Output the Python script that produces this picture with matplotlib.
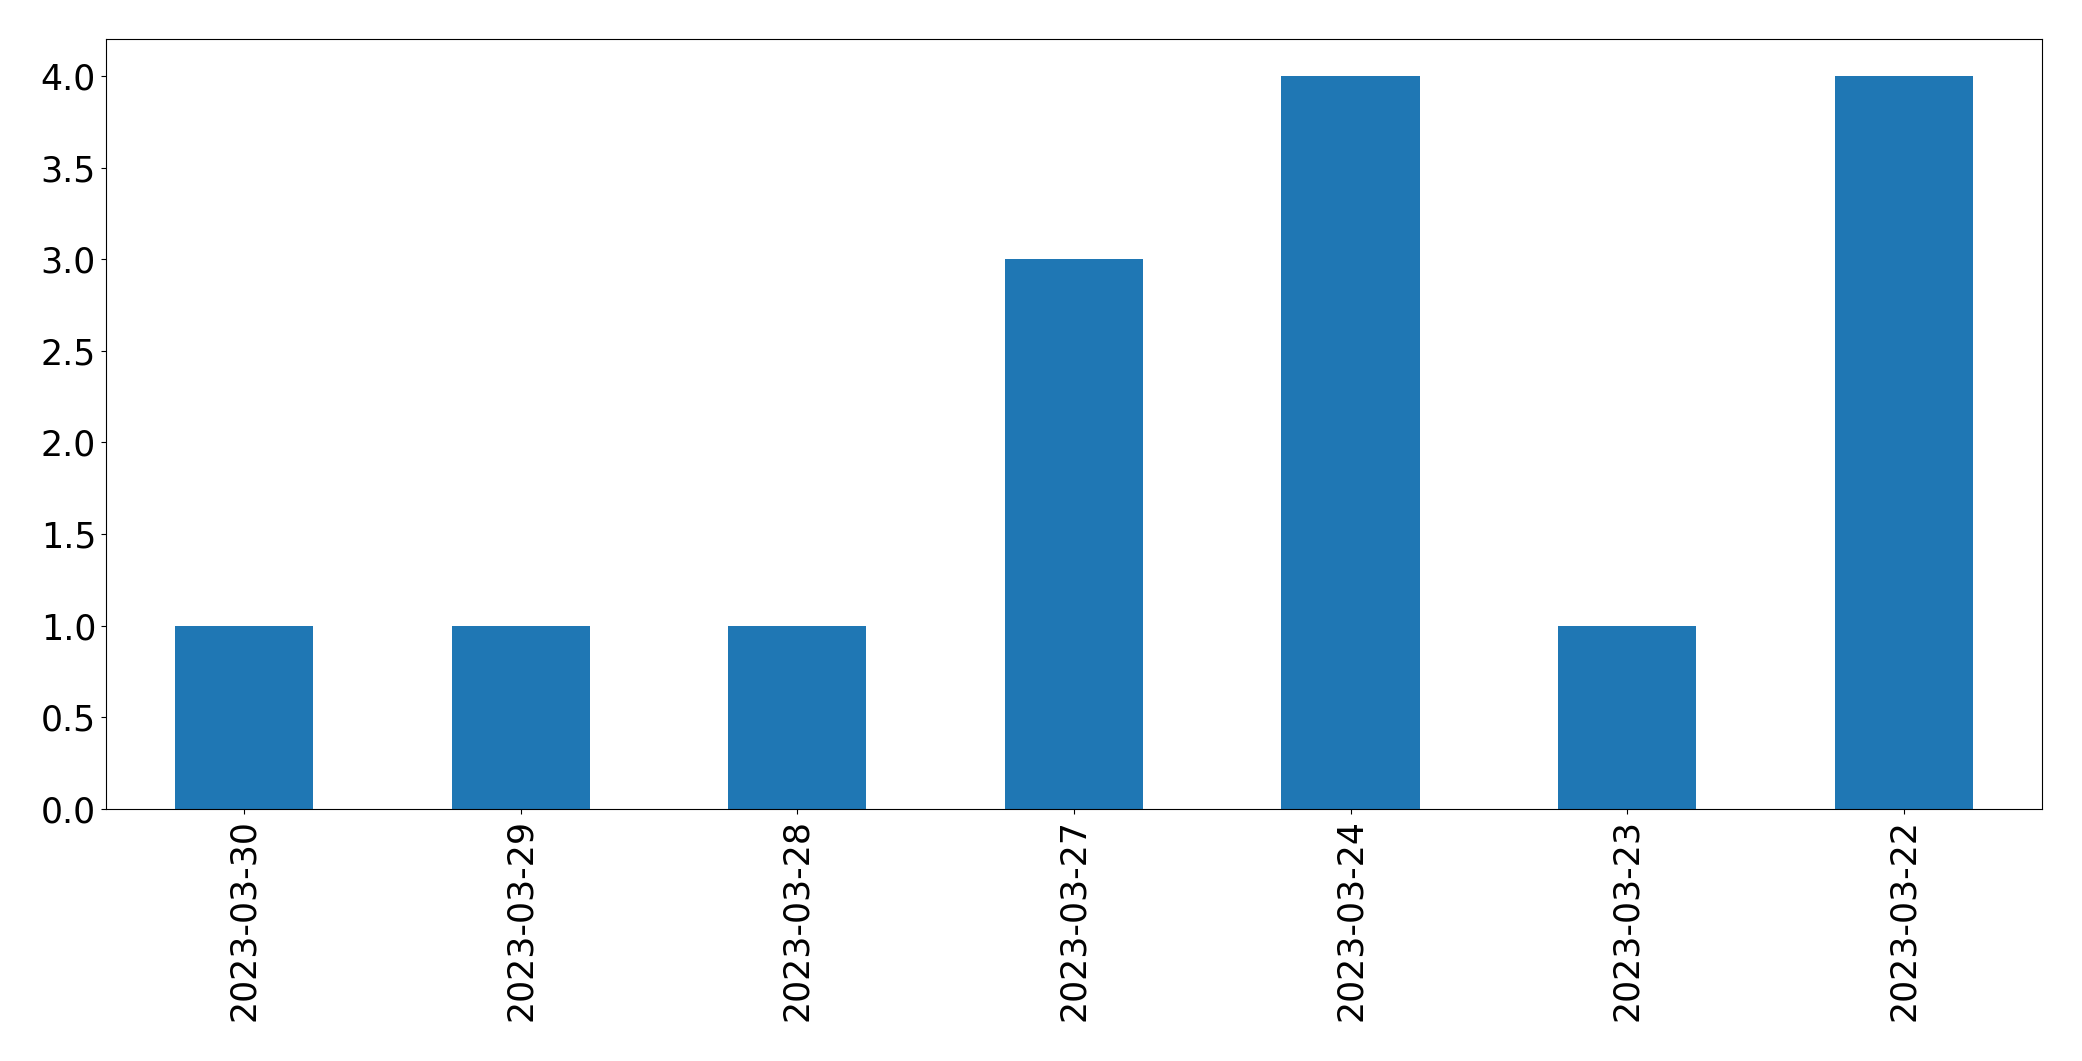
import matplotlib
matplotlib.use("Agg")
import matplotlib.pyplot as plt

dates = ["2023-03-30", "2023-03-29", "2023-03-28", "2023-03-27",
         "2023-03-24", "2023-03-23", "2023-03-22"]
counts = [1, 1, 1, 3, 4, 1, 4]

fig = plt.figure(figsize=(20.82, 10.61), dpi=100)
ax = fig.add_axes([0.0508, 0.2375, 0.9300, 0.7255])
x = list(range(len(dates)))
ax.bar(x, counts, width=0.5, color="#1f77b4")
ax.set_xlim(-0.5, len(dates) - 0.5)
ax.set_ylim(0, 4.2)
ax.set_xticks(x)
ax.set_xticklabels(dates, rotation=90)
ax.set_yticks([0.0, 0.5, 1.0, 1.5, 2.0, 2.5, 3.0, 3.5, 4.0])
ax.tick_params(axis="both", labelsize=25)
fig.savefig("out.png", dpi=100)
